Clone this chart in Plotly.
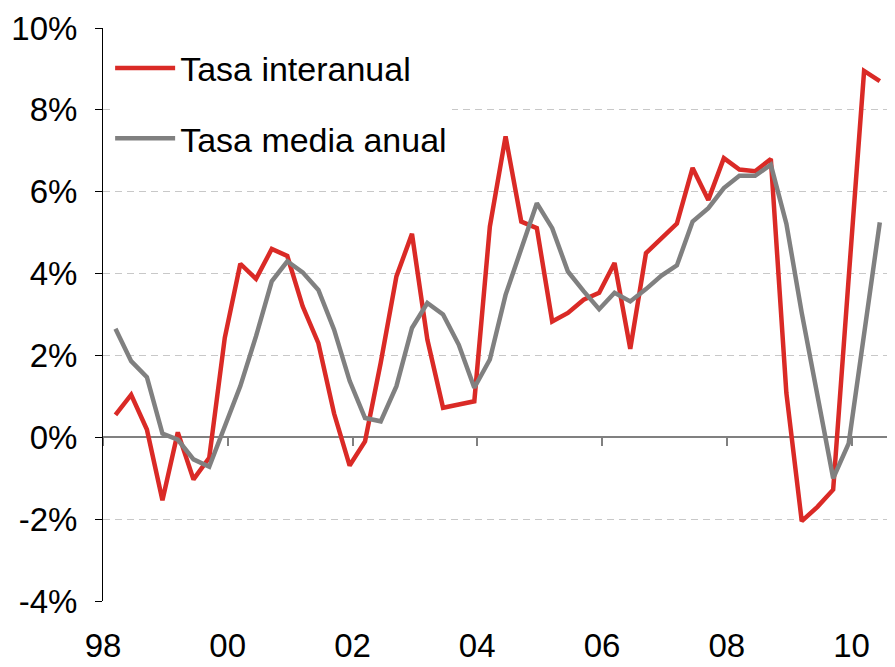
import plotly.graph_objects as go

# Quarterly observations, 1998 Q1 - 2010 Q2 (values in %)
quarter_months = [3, 6, 9, 12]
n_points = 50
dates = [f"{1998 + i // 4}-{quarter_months[i % 4]:02d}-15" for i in range(n_points)]

tasa_interanual = [0.55, 1.04, 0.19, -1.54, 0.12, -1.03, -0.5, 2.43, 4.24, 3.87,
                   4.6, 4.43, 3.2, 2.3, 0.58, -0.69, -0.1, 1.82, 3.93, 4.97,
                   2.39, 0.72, 0.8, 0.88, 5.15, 7.35, 5.27, 5.11, 2.83, 3.04,
                   3.36, 3.53, 4.26, 2.16, 4.5, 4.87, 5.22, 6.58, 5.8, 6.82,
                   6.54, 6.5, 6.8, 1.08, -2.05, -1.7, -1.28, 3.9, 8.95, 8.7]

tasa_media_anual = [2.65, 1.86, 1.47, 0.09, -0.06, -0.54, -0.72, 0.3, 1.25, 2.47,
                    3.81, 4.3, 4.03, 3.6, 2.63, 1.38, 0.47, 0.39, 1.25, 2.67,
                    3.28, 3.0, 2.26, 1.21, 1.9, 3.48, 4.62, 5.72, 5.11, 4.05,
                    3.57, 3.13, 3.53, 3.32, 3.62, 3.95, 4.2, 5.27, 5.6, 6.09,
                    6.39, 6.39, 6.66, 5.22, 3.04, 1.08, -1.0, -0.15, 2.6, 5.25]

x_tick_years = [1998, 2000, 2002, 2004, 2006, 2008, 2010]
x_tick_labels = ["98", "00", "02", "04", "06", "08", "10"]
y_tick_values = [-4, -2, 0, 2, 4, 6, 8, 10]
y_tick_labels = ["-4%", "-2%", "0%", "2%", "4%", "6%", "8%", "10%"]

FONT = "Liberation Sans, Arial, sans-serif"
RED = "#DA2A26"
GREY = "#808080"
x_range = ["1998-01-01", "2010-09-12"]
x_tickvals = [f"{y}-01-01" for y in x_tick_years]

fig = go.Figure()
# empty helper trace so the zero-line axis (x2) with its tick marks is drawn
fig.add_trace(go.Scatter(x=[dates[0]], y=[None], xaxis="x2", yaxis="y",
                         showlegend=False, hoverinfo="skip", mode="lines"))
fig.add_trace(go.Scatter(x=dates, y=tasa_interanual, mode="lines", name="Tasa interanual",
                         legendgroup="a", line=dict(color=RED, width=4.5)))
fig.add_trace(go.Scatter(x=dates, y=tasa_media_anual, mode="lines", name="Tasa media anual",
                         legendgroup="b", line=dict(color=GREY, width=4.5)))

fig.update_layout(
    width=887, height=659,
    margin=dict(l=95, r=0, t=20, b=66, autoexpand=False),
    paper_bgcolor="white", plot_bgcolor="white",
    font=dict(family=FONT, color="black"),
    showlegend=True,
    legend=dict(x=0.009, y=0.98, xanchor="left", yanchor="top",
                bgcolor="white", borderwidth=0,
                font=dict(size=34, family=FONT, color="black"),
                tracegroupgap=23, traceorder="grouped", itemwidth=60),
    xaxis=dict(type="date", range=x_range, tickvals=x_tickvals, ticktext=x_tick_labels,
               showgrid=False, showline=False, zeroline=False, ticks="",
               tickfont=dict(size=33, family=FONT), ticklabelstandoff=22,
               automargin=False),
    xaxis2=dict(type="date", range=x_range, overlaying="x", anchor="free",
                position=4 / 14, side="bottom", tickvals=x_tickvals,
                showticklabels=False, showgrid=False, zeroline=False,
                showline=True, linecolor=GREY, linewidth=2,
                ticks="outside", ticklen=8, tickcolor=GREY, tickwidth=1.5,
                layer="below traces", automargin=False),
    yaxis=dict(range=[-4, 10], tickvals=y_tick_values, ticktext=y_tick_labels,
               showline=True, linecolor="black", linewidth=1,
               ticks="outside", ticklen=7, tickcolor="black",
               showgrid=True, gridcolor="#C8C8C8", gridwidth=1, griddash="7px,5px",
               zeroline=False, tickfont=dict(size=33, family=FONT),
               ticklabelstandoff=11, automargin=False),
)

fig.write_html("out.html")
